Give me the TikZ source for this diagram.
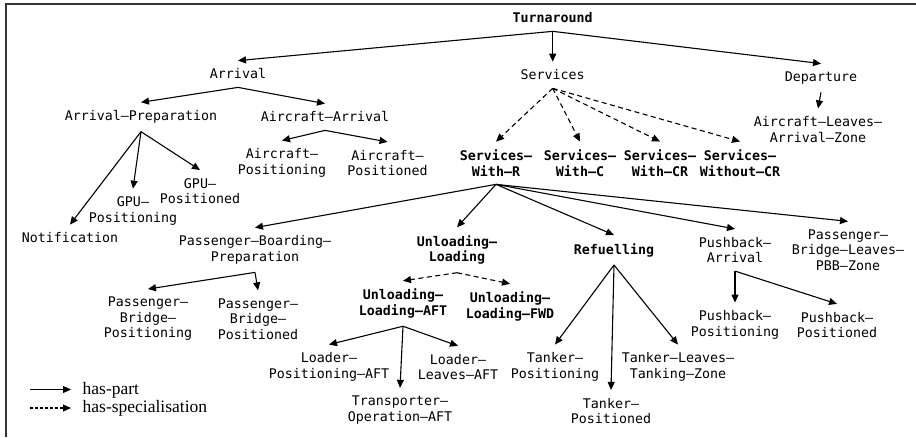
\documentclass[tikz,border=0pt]{standalone}
\usepackage{fontspec}
\setmainfont{Liberation Serif}
\newfontfamily\dvm{DejaVu Sans Mono}
\usetikzlibrary{arrows.meta}
\tikzset{
  n/.style={font=\dvm\fontsize{13.3}{15.5}\selectfont, align=center, inner xsep=2pt, inner ysep=8pt},
  nb/.style={n, font=\dvm\bfseries\fontsize{13.3}{15.5}\selectfont},
  part/.style={line width=1.1pt, -{Triangle[length=8pt,width=7pt]}},
  spec/.style={part, dash pattern=on 5pt off 3.5pt},
  legspec/.style={part, dash pattern=on 3pt off 2pt},
  frame/.style={line width=2pt, draw=black!80}
}
\begin{document}
\begin{tikzpicture}[x=1pt,y=-1pt]
\useasboundingbox (0,0) rectangle (916,437);
\draw[frame] (6,437) -- (6,3.5) -- (916,3.5);

\node[nb] (turn) at (552.7,18) {Turnaround};
\node[n] (arr) at (238,74) {Arrival};
\node[n] (serv) at (552.7,75) {Services};
\node[n] (dep) at (821,78) {Departure};
\node[n] (alaz) at (818,129.5) {Aircraft–Leaves–\\Arrival–Zone};
\node[n] (arrprep) at (141,117) {Arrival–Preparation};
\node[n] (acarr) at (325,117) {Aircraft–Arrival};
\node[n] (acpos) at (282,163) {Aircraft–\\Positioning};
\node[n] (acposd) at (387.5,163) {Aircraft–\\Positioned};
\node[n] (notif) at (70,238) {Notification};
\node[n] (gpupos) at (133,211) {GPU–\\Positioning};
\node[n] (gpuposd) at (200,191) {GPU–\\Positioned};
\node[nb] (swr) at (496,163) {Services–\\With–R};
\node[nb] (swc) at (580,163) {Services–\\With–C};
\node[nb] (swcr) at (660,163) {Services–\\With–CR};
\node[nb] (swocr) at (740,163) {Services–\\Without–CR};
\node[n] (pbp) at (255,250) {Passenger–Boarding–\\Preparation};
\node[nb] (ul) at (457,250) {Unloading–\\Loading};
\node[nb] (ref) at (614,250) {Refuelling};
\node[n] (pba) at (735,250) {Pushback–\\Arrival};
\node[n] (pbl) at (848,250) {Passenger–\\Bridge–Leaves–\\PBB–Zone};
\node[n] (pbpos) at (148,319) {Passenger–\\Bridge–\\Positioning};
\node[n] (pbposd) at (258,319) {Passenger–\\Bridge–\\Positioned};
\node[nb] (ulaft) at (403,303.5) {Unloading–\\Loading–AFT};
\node[nb] (ulfwd) at (510,306.5) {Unloading–\\Loading–FWD};
\node[n] (lpaft) at (329,367) {Loader–\\Positioning–AFT};
\node[n] (toaft) at (400,410) {Transporter–\\Operation–AFT};
\node[n] (llaft) at (458,367) {Loader–\\Leaves–AFT};
\node[n] (tpos) at (555,367) {Tanker–\\Positioning};
\node[n] (tposd) at (611,411) {Tanker–\\Positioned};
\node[n] (tltz) at (678,367) {Tanker–Leaves–\\Tanking–Zone};
\node[n] (pbkpos) at (735,325) {Pushback–\\Positioning};
\node[n] (pbkposd) at (837,325) {Pushback–\\Positioned};

\draw[part] (turn.south) -- (arr.north);
\draw[part] (turn.south) -- (serv.north);
\draw[part] (turn.south) -- (dep.north);
\draw[part] (dep.south) -- (alaz.north);
\draw[part] (arr.south) -- (arrprep.north);
\draw[part] (arr.south) -- (acarr.north);
\draw[part] (acarr.south) -- (acpos.north);
\draw[part] (acarr.south) -- (acposd.north);
\draw[part] (arrprep.south) -- (notif.north);
\draw[part] (arrprep.south) -- (gpupos.north);
\draw[part] (arrprep.south) -- (gpuposd.north);
\draw[spec] (serv.south) -- (swr.north);
\draw[spec] (serv.south) -- (swc.north);
\draw[spec] (serv.south) -- (swcr.north);
\draw[spec] (serv.south) -- (swocr.north);
\draw[part] (swr.south) -- (pbp.north);
\draw[part] (swr.south) -- (ul.north);
\draw[part] (swr.south) -- (ref.north);
\draw[part] (swr.south) -- (pba.north);
\draw[part] (swr.south) -- (pbl.north);
\draw[part] (pbp.south) -- (pbpos.north);
\draw[part] (pbp.south) -- (pbposd.north);
\draw[spec] (ul.south) -- (ulaft.north);
\draw[spec] (ul.south) -- (ulfwd.north);
\draw[part] (ulaft.south) -- (lpaft.north);
\draw[part] (ulaft.south) -- (toaft.north);
\draw[part] (ulaft.south) -- (llaft.north);
\draw[part] (ref.south) -- (tpos.north);
\draw[part] (ref.south) -- (tposd.north);
\draw[part] (ref.south) -- (tltz.north);
\draw[part] (pba.south) -- (pbkpos.north);
\draw[part] (pba.south) -- (pbkposd.north);

\coordinate (l1s) at (30,389.5);
\coordinate (l1e) at (71,389.5);
\coordinate (l2s) at (30,408);
\coordinate (l2e) at (71,408);
\draw[part] (l1s) -- (l1e);
\draw[legspec] (l2s) -- (l2e);
\node[anchor=base west, inner sep=0pt, font=\fontsize{17.5}{20}\selectfont] (lt1) at (82.5,394) {has-part};
\node[anchor=base west, inner sep=0pt, font=\fontsize{17.5}{20}\selectfont] (lt2) at (82.5,412.5) {has-specialisation};
\end{tikzpicture}
\end{document}
